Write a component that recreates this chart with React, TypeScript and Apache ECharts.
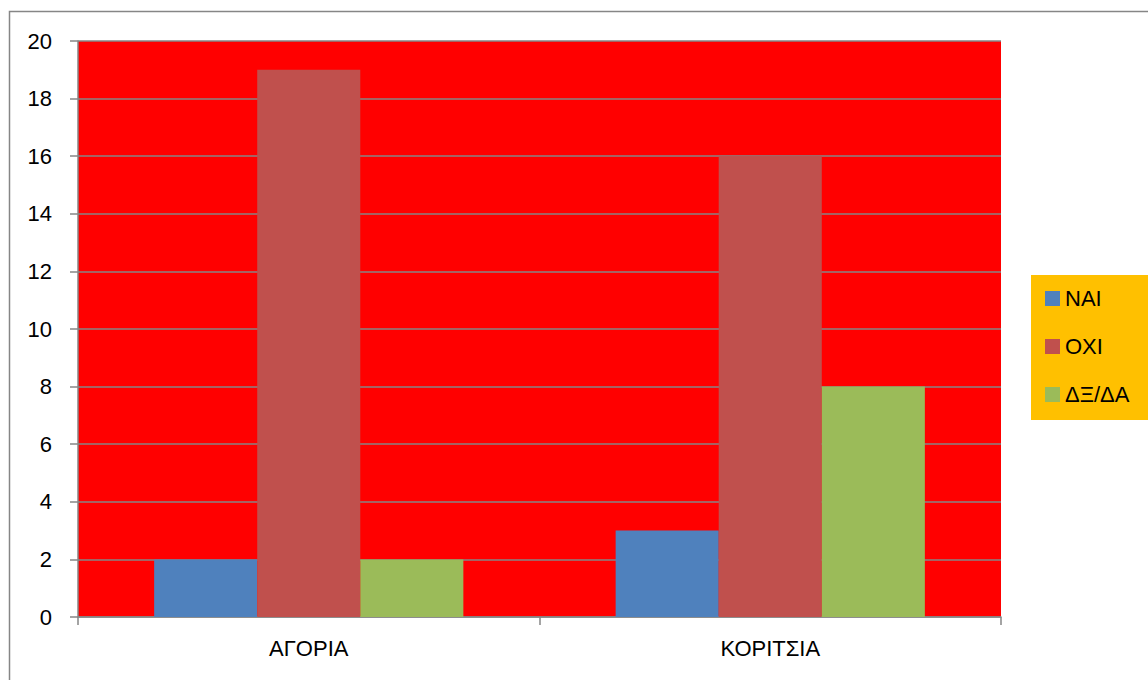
import React, { useEffect, useRef } from "react";
import * as echarts from "echarts";

const categories = ["ΑΓΟΡΙΑ", "ΚΟΡΙΤΣΙΑ"];
const seriesNames = ["ΝΑΙ", "ΟΧΙ", "ΔΞ/ΔΑ"];
const naiValues = [2, 3];
const oxiValues = [19, 16];
const dkValues = [2, 8];
const seriesColors = ["#4F81BD", "#C0504D", "#9BBB59"];

const FONT = "'Liberation Sans', Arial, sans-serif";
const GRAY = "#868686";

export default function App() {
  const ref = useRef<HTMLDivElement>(null);

  useEffect(() => {
    if (!ref.current) return;
    const chart = echarts.init(ref.current, undefined, { renderer: "svg" });
    const values = [naiValues, oxiValues, dkValues];
    chart.setOption({
      animation: false,
      backgroundColor: "#FFFFFF",
      textStyle: { fontFamily: FONT },
      grid: {
        left: 78,
        top: 41,
        right: 147,
        bottom: 63,
        show: true,
        backgroundColor: "#FF0000",
        borderWidth: 0,
      },
      graphic: [
        {
          type: "rect",
          shape: { x: 9.5, y: 11.5, width: 1200, height: 720 },
          style: { fill: "none", stroke: GRAY, lineWidth: 1.5 },
          z: 0,
          silent: true,
        },
        {
          type: "rect",
          shape: { x: 1031, y: 275, width: 130, height: 145 },
          style: { fill: "#FFC000" },
          z: 0,
          silent: true,
        },
      ],
      legend: {
        orient: "vertical",
        left: 1045,
        top: 287,
        padding: 0,
        itemGap: 25,
        itemWidth: 15,
        itemHeight: 15,
        icon: "rect",
        z: 10,
        textStyle: { fontFamily: FONT, fontSize: 22, lineHeight: 23, color: "#000" },
        data: seriesNames,
      },
      xAxis: {
        type: "category",
        data: categories,
        axisLine: { show: true, lineStyle: { color: GRAY, width: 1.5 } },
        axisTick: { show: true, length: 8, lineStyle: { color: GRAY, width: 1.5 } },
        axisLabel: { margin: 20, fontSize: 22, color: "#000", fontFamily: FONT },
      },
      yAxis: {
        type: "value",
        min: 0,
        max: 20,
        interval: 2,
        axisLine: { show: true, lineStyle: { color: GRAY, width: 1.5 } },
        axisTick: { show: true, length: 8, lineStyle: { color: GRAY, width: 1.5 } },
        axisLabel: { margin: 26, fontSize: 22, color: "#000", fontFamily: FONT },
        splitLine: { show: true, lineStyle: { color: GRAY, width: 1.5 } },
      },
      series: seriesNames.map((name, i) => ({
        name,
        type: "bar",
        data: values[i],
        barGap: "0%",
        barCategoryGap: "33%",
        itemStyle: { color: seriesColors[i] },
      })),
    });
    return () => chart.dispose();
  }, []);

  return (
    <div
      ref={ref}
      style={{ position: "fixed", left: 0, top: 0, width: 1148, height: 680 }}
    />
  );
}
